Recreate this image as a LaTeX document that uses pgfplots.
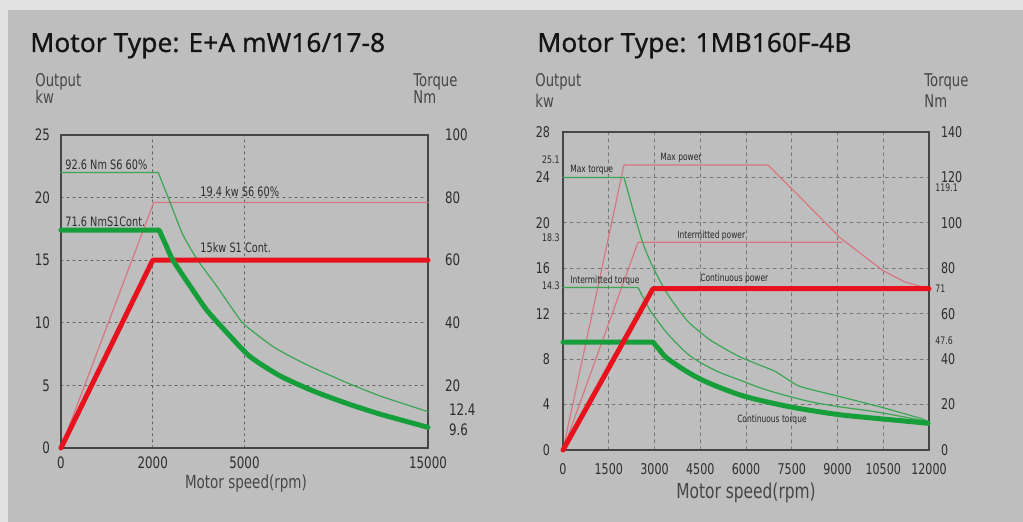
\documentclass[border=0pt]{standalone}
\usepackage{fontspec}
\usepackage{pgfplots}
\pgfplotsset{compat=1.18}
\setmainfont{DejaVu Sans}
\newfontfamily\iso{DejaVu Sans}[FakeStretch=0.75]
\newfontfamily\titlefont{Noto Sans}[FakeBold=0.6]
\definecolor{bg}{RGB}{190,190,190}
\definecolor{bgl}{RGB}{226,226,226}
\definecolor{thickred}{RGB}{232,18,30}
\definecolor{thinred}{RGB}{214,118,128}
\definecolor{thickgreen}{RGB}{22,158,58}
\definecolor{thingreen}{RGB}{58,166,84}
\definecolor{framec}{RGB}{70,70,70}
\definecolor{txt}{RGB}{45,45,45}
\definecolor{lbl}{RGB}{70,70,70}
\definecolor{gridc}{RGB}{95,95,95}
\pgfplotsset{
  basechart/.style={
    scale only axis, anchor=south west, clip=false,
    scaled ticks=false,
    major tick length=0pt,
    axis line style={framec, line width=0.7pt},
    ticklabel style={text=txt},
  },
  thin/.style={line width=0.6pt, line join=round, line cap=round},
  thick/.style={line width=2.5pt, line join=round, line cap=round},
}
\begin{document}
\begin{tikzpicture}
\path[use as bounding box] (0,0) rectangle (511.5pt,261pt);
\fill[bgl] (0,0) rectangle (511.5pt,261pt);
\fill[bg] (4pt,0) rectangle (511.5pt,256pt);
% titles
\node[anchor=base west, inner sep=0, font=\titlefont\fontsize{13.2}{15}\selectfont, text=black!92] at (15pt,235pt) {Motor Type: E+A mW16/17-8};
\node[anchor=base west, inner sep=0, font=\titlefont\fontsize{13.2}{15}\selectfont, text=black!92] at (268.5pt,235pt) {Motor Type: 1MB160F-4B};
% unit labels
\begin{scope}[every node/.style={anchor=base west, inner sep=0, font=\iso\fontsize{8.8}{9}\selectfont, text=lbl}]
\node at (17.5pt,217.5pt) {Output};
\node at (17.5pt,209pt) {kw};
\node at (206.5pt,217.5pt) {Torque};
\node at (206.5pt,209pt) {Nm};
\node at (267.5pt,217.5pt) {Output};
\node at (267.5pt,207pt) {kw};
\node at (462pt,217.5pt) {Torque};
\node at (462pt,207pt) {Nm};
\end{scope}

% ---------------- left chart ----------------
\begin{axis}[basechart, at={(30.5pt,37pt)}, width=183.5pt, height=156.5pt,
  xmin=0, xmax=4, ymin=0, ymax=25,
  xtick={0,1,2,4}, xticklabels={0,2000,5000,15000},
  ytick={0,5,10,15,20,25}, yticklabels={0,5,10,15,20,25},
  grid=major, grid style={gridc, line width=0.5pt, dash pattern=on 1pt off 2pt},
  ticklabel style={font=\iso\fontsize{7.9}{8}\selectfont},
  yticklabel style={xshift=-2pt}, xticklabel style={yshift=-1pt},
]
\addplot[thinred, thin] coordinates {(0,0) (1.01,19.6) (4,19.6)};
\addplot[thingreen, thin] coordinates {(0,22.0) (1.06,22.0) (1.19,19.6)};
\addplot[thingreen, thin, smooth, tension=0.3] coordinates {
 (1.19,19.6) (1.33,17.0) (1.49,15.0) (1.70,12.9) (1.98,10.0)
 (2.31,8.1) (2.53,7.2) (2.75,6.4) (3.12,5.2) (3.48,4.15) (4.0,2.9)};
\addplot[thickred, thick] coordinates {(0,0) (1.0,15) (4,15)};
\addplot[thickgreen, thick] coordinates {(0,17.4) (1.07,17.4) (1.15,16.1)};
\addplot[thickgreen, thick, smooth, tension=0.4] coordinates {
 (1.15,16.1) (1.22,15.0) (1.41,12.9) (1.59,11.0) (1.81,9.2) (2.06,7.3)
 (2.39,5.75) (2.75,4.55) (3.12,3.55) (3.48,2.7) (4.0,1.65)};
\begin{scope}[every node/.style={anchor=west, inner sep=0, font=\iso\fontsize{6.5}{7}\selectfont, text=txt}]
\node at (axis cs:0.044,22.6) {92.6 Nm S6 60\%};
\node at (axis cs:1.515,20.5) {19.4 kw S6 60\%};
\node at (axis cs:0.044,18.1) {71.6 NmS1Cont.};
\node at (axis cs:1.515,16.0) {15kw S1 Cont.};
\end{scope}
\node[font=\iso\fontsize{9}{9}\selectfont, text=lbl] at (rel axis cs:0.504,0) [yshift=-18pt] {Motor speed(rpm)};
\end{axis}
\begin{axis}[basechart, at={(30.5pt,37pt)}, width=183.5pt, height=156.5pt,
  xmin=0, xmax=4, ymin=0, ymax=25, hide x axis, axis y line*=right,
  y axis line style={draw=none},
  ytick={5,10,15,20,25}, yticklabels={20,40,60,80,100},
  ticklabel style={font=\iso\fontsize{7.9}{8}\selectfont},
  yticklabel style={xshift=5pt},
  extra y ticks={3.1,1.45}, extra y tick labels={12.4,9.6},
  extra y tick style={grid=none, yticklabel style={xshift=2pt}},
]
\end{axis}

% ---------------- right chart ----------------
\begin{axis}[basechart, at={(281.5pt,36pt)}, width=183pt, height=159pt,
  xmin=0, xmax=12000, ymin=0, ymax=28,
  xtick={0,1500,3000,4500,6000,7500,9000,10500,12000},
  xticklabels={0,1500,3000,4500,6000,7500,9000,10500,12000},
  ytick={0,4,8,12,16,20,24,28}, yticklabels={0,4,8,12,16,20,24,28},
  grid=major, grid style={gridc!85, line width=0.5pt, dash pattern=on 1.5pt off 2pt},
  ticklabel style={font=\iso\fontsize{7.4}{8}\selectfont},
  yticklabel style={xshift=-3pt}, xticklabel style={yshift=-3pt},
]
\addplot[thinred, thin] coordinates {
 (0,0) (2000,25.1) (6720,25.1) (7540,22.9) (9080,18.7) (10490,15.8) (11200,14.8) (12000,14.2)};
\addplot[thinred, thin] coordinates {(0,0) (2460,18.3) (9150,18.3)};
\addplot[thingreen, thin] coordinates {(0,24.0) (2000,24.0) (2300,21.1)};
\addplot[thingreen, thin, smooth, tension=0.4] coordinates {
 (2300,21.1) (2620,18.2) (2950,16.1) (3410,13.8) (4070,11.4)
 (4820,9.7) (5800,8.2) (6890,7.0) (7210,6.5) (7770,5.6) (9080,4.7) (10390,3.8)
 (11700,2.8) (11970,2.5)};
\addplot[thingreen, thin] coordinates {(0,14.3) (2460,14.3) (2850,12.3)};
\addplot[thingreen, thin, smooth, tension=0.5] coordinates {
 (2850,12.3) (3410,10.3) (4160,8.3) (5000,7.0) (5800,6.15)
 (6600,5.35) (7440,4.7) (8200,4.2) (9080,3.8) (10390,3.3) (11970,2.5)};
\addplot[thickgreen, thick] coordinates {(0,9.5) (2950,9.5) (3200,8.7)};
\addplot[thickgreen, thick, smooth, tension=0.5] coordinates {
 (3200,8.7) (3400,8.1) (4000,7.0) (4500,6.25) (5000,5.65) (5800,4.85)
 (6500,4.35) (7440,3.8) (8200,3.45) (9080,3.1) (10000,2.85) (11000,2.6) (11970,2.35)};
\addplot[thickred, thick] coordinates {(0,0) (2950,14.2) (12000,14.2)};
\begin{scope}[every node/.style={anchor=west, inner sep=0, font=\iso\fontsize{5}{5}\selectfont, text=black!85}]
\node at (axis cs:230,24.7) {Max torque};
\node at (axis cs:3180,25.7) {Max power};
\node at (axis cs:3740,18.9) {Intermitted power};
\node at (axis cs:230,14.9) {Intermitted torque};
\node at (axis cs:4490,15.1) {Continuous power};
\node at (axis cs:5700,2.7) {Continuous torque};
\end{scope}
\begin{scope}[every node/.style={inner sep=0, font=\iso\fontsize{5.2}{5}\selectfont, text=txt}]
\node[anchor=east] at (axis cs:0,25.6) [xshift=-1.5pt] {25.1};
\node[anchor=east] at (axis cs:0,18.7) [xshift=-1.5pt] {18.3};
\node[anchor=east] at (axis cs:0,14.5) [xshift=-1.5pt] {14.3};
\node[anchor=west] at (axis cs:12000,23.1) [xshift=3pt] {119.1};
\node[anchor=west] at (axis cs:12000,14.2) [xshift=3pt] {71};
\node[anchor=west] at (axis cs:12000,9.6) [xshift=3pt] {47.6};
\end{scope}
\node[font=\iso\fontsize{10.3}{10}\selectfont, text=lbl] at (rel axis cs:0.5,0) [yshift=-21.5pt] {Motor speed(rpm)};
\end{axis}
\begin{axis}[basechart, at={(281.5pt,36pt)}, width=183pt, height=159pt,
  xmin=0, xmax=12000, ymin=0, ymax=28, hide x axis, axis y line*=right,
  y axis line style={draw=none},
  ytick={0,4,8,12,16,20,24,28}, yticklabels={0,20,40,60,80,100,120,140},
  ticklabel style={font=\iso\fontsize{7.4}{8}\selectfont},
  yticklabel style={xshift=2.5pt},
]
\end{axis}
\end{tikzpicture}
\end{document}
